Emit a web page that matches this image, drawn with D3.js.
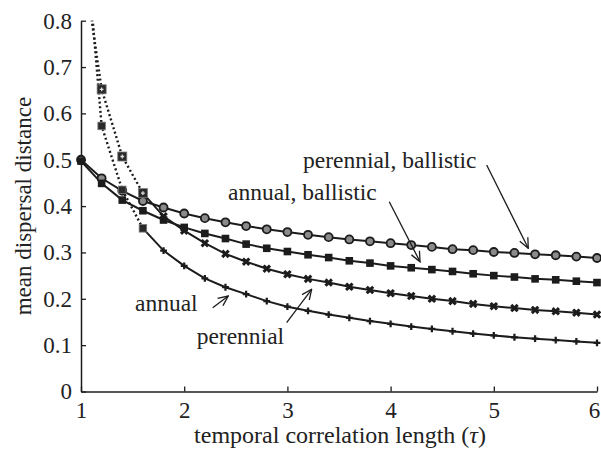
<!DOCTYPE html>
<html>
<head>
<meta charset="utf-8">
<script src="https://cdn.jsdelivr.net/npm/d3@7"></script>
<style>
  body { margin: 0; background: #fff; }
  svg text { font-family: "Times New Roman", "Liberation Serif", Times, "DejaVu Serif", serif; fill: #222; }
</style>
</head>
<body>
<div id="chart"></div>
<script>
// Data.
const tau = [1.0, 1.2, 1.4, 1.6, 1.8, 2.0, 2.2, 2.4, 2.6, 2.8, 3.0, 3.2, 3.4,
             3.6, 3.8, 4.0, 4.2, 4.4, 4.6, 4.8, 5.0, 5.2, 5.4, 5.6, 5.8, 6.0];

const perennialBallistic = [0.500, 0.460, 0.433, 0.411, 0.397, 0.384, 0.374, 0.365, 0.357, 0.350,
                            0.344, 0.338, 0.333, 0.328, 0.324, 0.320, 0.316, 0.312, 0.307, 0.305,
                            0.301, 0.299, 0.296, 0.294, 0.291, 0.288];
const annualBallistic = [0.497, 0.449, 0.413, 0.390, 0.370, 0.354, 0.341, 0.330, 0.318, 0.309,
                         0.302, 0.295, 0.289, 0.282, 0.277, 0.271, 0.267, 0.263, 0.259, 0.254,
                         0.250, 0.247, 0.243, 0.241, 0.238, 0.235];
const perennial = [0.960, 0.652, 0.507, 0.428, 0.378, 0.347, 0.320, 0.297, 0.280, 0.265,
                   0.253, 0.243, 0.235, 0.226, 0.219, 0.212, 0.206, 0.200, 0.195, 0.189,
                   0.184, 0.180, 0.176, 0.173, 0.170, 0.166];
const annual = [1.100, 0.573, 0.435, 0.352, 0.304, 0.271, 0.244, 0.225, 0.210, 0.195,
                0.183, 0.174, 0.166, 0.159, 0.152, 0.146, 0.140, 0.135, 0.130, 0.125,
                0.121, 0.117, 0.114, 0.111, 0.108, 0.105];

// points up to this index are drawn dotted for the non-ballistic curves
const dottedUntil = 3;

const xTicks = [1, 2, 3, 4, 5, 6];
const yTicks = [0, 0.1, 0.2, 0.3, 0.4, 0.5, 0.6, 0.7, 0.8];

// label text, anchor [tau, value]
const labels = [
    { text: 'perennial, ballistic', at: [3.151, 0.4815] },
    { text: 'annual, ballistic', at: [2.424, 0.413] },
    { text: 'annual', at: [1.523, 0.174] },
    { text: 'perennial', at: [2.121, 0.1025] }
];
// arrows [from, to] in data units
const arrows = [
    [[4.931, 0.4887], [5.334, 0.309]],
    [[3.987, 0.4095], [4.285, 0.280]],
    [[2.276, 0.1808], [2.427, 0.206]],
    [[2.993, 0.1484], [3.235, 0.2205]]
];

const W = 601, H = 450;
const ink = '#1c1c1c';
const serif = '"Times New Roman", "Liberation Serif", Times, serif';

const svg = d3.select('#chart').append('svg')
    .attr('width', W)
    .attr('height', H)
    .attr('font-family', serif);

const x = d3.scaleLinear().domain([1, 6]).range([81, 597]);
const y = d3.scaleLinear().domain([0, 0.8]).range([391.5, 20.7]);

// arrow head
svg.append('defs').append('marker')
    .attr('id', 'head')
    .attr('viewBox', '0 0 12 12')
    .attr('refX', 11)
    .attr('refY', 6)
    .attr('markerWidth', 12)
    .attr('markerHeight', 12)
    .attr('markerUnits', 'userSpaceOnUse')
    .attr('orient', 'auto')
    .append('path')
    .attr('d', 'M1,1.5 L11,6 L1,10.5')
    .attr('fill', 'none')
    .attr('stroke', ink)
    .attr('stroke-width', 1.3);

svg.select('defs').append('clipPath')
    .attr('id', 'plot')
    .append('rect')
    .attr('x', x(1) - 10)
    .attr('y', y(0.8))
    .attr('width', x(6) - x(1) + 20)
    .attr('height', y(0) - y(0.8) + 10);

// Axes
const xAxis = svg.append('g')
    .attr('transform', `translate(0,${y(0)})`)
    .call(d3.axisBottom(x).tickValues(xTicks).tickSizeInner(-5).tickSizeOuter(0).tickPadding(10)
        .tickFormat(d3.format('d')));
const yAxis = svg.append('g')
    .attr('transform', `translate(${x(1)},0)`)
    .call(d3.axisLeft(y).tickValues(yTicks).tickSizeInner(-5).tickSizeOuter(0).tickPadding(9)
        .tickFormat(d => d === 0 ? '0' : d.toFixed(1)));

[xAxis, yAxis].forEach(g => {
    g.attr('font-family', serif);
    g.select('.domain').attr('stroke', ink).attr('stroke-width', 1.5);
    g.selectAll('.tick line').attr('stroke', ink).attr('stroke-width', 1.3);
    g.selectAll('.tick text')
        .attr('font-size', 23)
        .attr('fill', '#222');
});
// keep the last tick label inside the window
xAxis.selectAll('.tick text').filter(d => d === 6).attr('dx', -3);

const xTitle = svg.append('text')
    .attr('x', (x(1) + x(6)) / 2 + 1)
    .attr('y', 443)
    .attr('text-anchor', 'middle')
    .attr('font-size', 24);
xTitle.append('tspan').text('temporal correlation length (');
xTitle.append('tspan').attr('font-style', 'italic').text('τ');
xTitle.append('tspan').text(')');

svg.append('text')
    .attr('transform', `translate(31,${(y(0) + y(0.8)) / 2}) rotate(-90)`)
    .attr('text-anchor', 'middle')
    .attr('font-size', 23)
    .text('mean dispersal distance');

// Curves
const line = d3.line()
    .x(d => x(d[0]))
    .y(d => y(d[1]));

const plot = svg.append('g').attr('clip-path', 'url(#plot)');

function pairs(values, from, to) {
    return tau.map((t, i) => [t, values[i]]).slice(from, to);
}

const series = [
    { values: perennialBallistic, marker: 'circle', dotted: false },
    { values: annualBallistic, marker: 'square', dotted: false },
    { values: perennial, marker: 'times', dotted: true },
    { values: annual, marker: 'plus', dotted: true }
];

series.forEach(s => {
    if (s.dotted) {
        plot.append('path')
            .attr('d', line(pairs(s.values, 0, dottedUntil + 1)))
            .attr('fill', 'none')
            .attr('stroke', ink)
            .attr('stroke-width', 2.4)
            .attr('stroke-dasharray', '2,2.6');
        plot.append('path')
            .attr('d', line(pairs(s.values, dottedUntil)))
            .attr('fill', 'none')
            .attr('stroke', ink)
            .attr('stroke-width', 2);
    } else {
        plot.append('path')
            .attr('d', line(pairs(s.values, 0)))
            .attr('fill', 'none')
            .attr('stroke', ink)
            .attr('stroke-width', 2);
    }
});

// Markers
const crossSym = d3.symbol().type(d3.symbolCross);

series.forEach(s => {
    const pts = s.dotted ? pairs(s.values, dottedUntil + 1) : pairs(s.values, 0);
    const g = plot.append('g');
    if (s.marker === 'circle') {
        g.selectAll('circle').data(pts).enter().append('circle')
            .attr('cx', d => x(d[0]))
            .attr('cy', d => y(d[1]))
            .attr('r', 4)
            .attr('fill', '#8a8a8a')
            .attr('stroke', ink)
            .attr('stroke-width', 1.8);
    } else if (s.marker === 'square') {
        g.selectAll('rect').data(pts).enter().append('rect')
            .attr('x', d => x(d[0]) - 3.8)
            .attr('y', d => y(d[1]) - 3.8)
            .attr('width', 7.6)
            .attr('height', 7.6)
            .attr('fill', ink);
    } else if (s.marker === 'times') {
        g.selectAll('path').data(pts).enter().append('path')
            .attr('d', crossSym.size(46))
            .attr('transform', d => `translate(${x(d[0])},${y(d[1])}) rotate(45)`)
            .attr('fill', ink);
    } else {
        g.selectAll('path').data(pts).enter().append('path')
            .attr('d', crossSym.size(26))
            .attr('transform', d => `translate(${x(d[0])},${y(d[1])})`)
            .attr('fill', ink);
    }

    // square markers on the dotted part
    if (s.dotted) {
        const sq = pairs(s.values, 1, dottedUntil + 1);
        const big = s.marker === 'times' ? 9 : 7.5;
        const dg = plot.append('g');
        dg.selectAll('rect').data(sq).enter().append('rect')
            .attr('x', d => x(d[0]) - big / 2)
            .attr('y', d => y(d[1]) - big / 2)
            .attr('width', big)
            .attr('height', big)
            .attr('fill', '#2a2a2a')
            .attr('stroke', '#777')
            .attr('stroke-width', 0.8);
        if (s.marker === 'times') {
            dg.selectAll('path').data(sq).enter().append('path')
                .attr('d', crossSym.size(8))
                .attr('transform', d => `translate(${x(d[0])},${y(d[1])})`)
                .attr('fill', '#ddd');
        }
    }
});

// Annotations
svg.append('g').selectAll('line').data(arrows).enter().append('line')
    .attr('x1', d => x(d[0][0]))
    .attr('y1', d => y(d[0][1]))
    .attr('x2', d => x(d[1][0]))
    .attr('y2', d => y(d[1][1]))
    .attr('stroke', ink)
    .attr('stroke-width', 1.3)
    .attr('marker-end', 'url(#head)');

svg.append('g').selectAll('text').data(labels).enter().append('text')
    .attr('x', d => x(d.at[0]))
    .attr('y', d => y(d.at[1]))
    .attr('font-size', 23.5)
    .text(d => d.text);
</script>
</body>
</html>
